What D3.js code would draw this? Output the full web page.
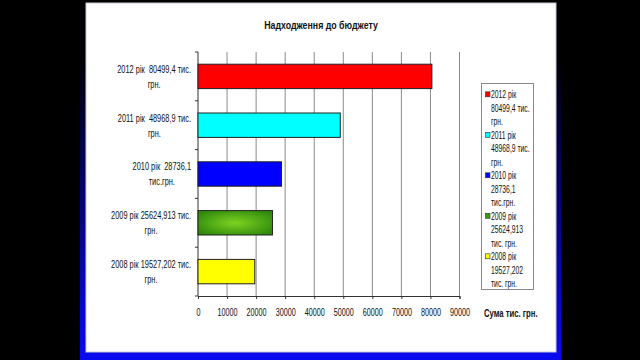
<!DOCTYPE html>
<html>
<head>
<meta charset="utf-8">
<script src="https://cdnjs.cloudflare.com/ajax/libs/d3/7.8.5/d3.min.js"></script>
<style>
    body { margin: 0; background: #000; overflow: hidden; }
    text { font-family: "Liberation Sans", Arial, sans-serif; fill: #111; }
</style>
</head>
<body>
<div id="chart"></div>
<script>
// data, bottom to top as in the original
let years = ["2008", "2009", "2010", "2011", "2012"];
let amounts = [19527.202, 25624.913, 28736.1, 48968.9, 80499.4];
let barLabels = [
    ["2008 рік 19527,202 тис.", "грн."],
    ["2009 рік 25624,913 тис.", "грн."],
    ["2010 рік  28736,1", "тис.грн."],
    ["2011 рік  48968,9 тис.", "грн."],
    ["2012 рік  80499,4 тис.", "грн."]
];
let legendLabels = [
    ["2008 рік", "19527,202", "тис. грн."],
    ["2009 рік", "25624,913", "тис. грн."],
    ["2010 рік", "28736,1", "тис.грн."],
    ["2011 рік", "48968,9 тис.", "грн."],
    ["2012 рік", "80499,4 тис.", "грн."]
];
let xTicks = [0, 10000, 20000, 30000, 40000, 50000, 60000, 70000, 80000, 90000];
let barColors = ["#ffff00", "url(#greenFill)", "#0000ff", "#00ffff", "#ff0000"];

let chartTitle = "Надходження до бюджету";
let xTitle = "Сума тис. грн.";

let plot = {left: 198, right: 459.5, top: 52, bottom: 296};

let svg = d3.select("#chart")
    .append("svg")
    .attr("width", 640)
    .attr("height", 360);

let defs = svg.append("defs");

let frameGrad = defs.append("linearGradient")
    .attr("id", "frameGrad")
    .attr("x1", 0).attr("y1", 0).attr("x2", 0).attr("y2", 1);
frameGrad.append("stop").attr("offset", "0%").attr("stop-color", "#000");
frameGrad.append("stop").attr("offset", "15%").attr("stop-color", "#000");
frameGrad.append("stop").attr("offset", "100%").attr("stop-color", "#0a0af0");

let greenFill = defs.append("radialGradient")
    .attr("id", "greenFill")
    .attr("cx", "50%").attr("cy", "50%").attr("r", "60%");
greenFill.append("stop").attr("offset", "0%").attr("stop-color", "#7ed321");
greenFill.append("stop").attr("offset", "100%").attr("stop-color", "#2f8a0c");

// no narrow face is installed, so squeeze the glyphs like Arial Narrow
function condense(sel, factor) {
    sel.each(function() {
        let w = this.getComputedTextLength();
        d3.select(this)
            .attr("textLength", w * factor)
            .attr("lengthAdjust", "spacingAndGlyphs");
    });
}

function drawGraph() {

    // slide frame
    svg.append("rect")
        .attr("x", 80).attr("y", 0)
        .attr("width", 481).attr("height", 360)
        .attr("fill", "url(#frameGrad)");

    svg.append("rect")
        .attr("x", 86).attr("y", 3)
        .attr("width", 470).attr("height", 349)
        .attr("fill", "#fff")
        .attr("stroke", "#c8c8d8")
        .attr("stroke-width", 1);

    let x = d3.scaleLinear()
        .domain([0, 90000])
        .range([plot.left, plot.right]);

    let y = d3.scaleBand()
        .domain(years.slice().reverse())
        .range([plot.top, plot.bottom])
        .paddingInner(0.5)
        .paddingOuter(0.25);

    // grid
    svg.append("g")
        .selectAll("line")
        .data(xTicks.filter(function(d) { return d > 0; }))
        .enter()
        .append("line")
        .attr("x1", function(d) { return x(d); })
        .attr("x2", function(d) { return x(d); })
        .attr("y1", plot.top)
        .attr("y2", plot.bottom)
        .attr("stroke", "#8a8a8a")
        .attr("stroke-width", 1);

    // x axis
    let xAxis = svg.append("g")
        .attr("transform", "translate(0," + plot.bottom + ")")
        .call(d3.axisBottom(x).tickValues(xTicks).tickSize(3).tickPadding(10).tickFormat(function(d) { return d; }));
    xAxis.select(".domain").attr("stroke", "#333");
    xAxis.selectAll(".tick line").attr("stroke", "#333");
    xAxis.selectAll("text")
        .attr("font-size", "10px")
        .attr("fill", "#111")
        .call(condense, 0.72);

    // y axis line and band ticks
    svg.append("line")
        .attr("x1", plot.left).attr("x2", plot.left)
        .attr("y1", plot.top).attr("y2", plot.bottom)
        .attr("stroke", "#333");

    let step = y.step();
    svg.append("g")
        .selectAll("line")
        .data(d3.range(years.length + 1))
        .enter()
        .append("line")
        .attr("x1", plot.left - 3)
        .attr("x2", plot.left)
        .attr("y1", function(k) { return plot.top + k * step; })
        .attr("y2", function(k) { return plot.top + k * step; })
        .attr("stroke", "#333");

    // bars
    svg.append("g")
        .selectAll("rect")
        .data(years)
        .enter()
        .append("rect")
        .attr("x", x(0))
        .attr("y", function(d) { return y(d); })
        .attr("width", function(d, i) { return x(amounts[i]) - x(0); })
        .attr("height", y.bandwidth())
        .attr("fill", function(d, i) { return barColors[i]; })
        .attr("stroke", "#222")
        .attr("stroke-width", 1);

    // category labels: each label is a box right aligned, lines centered in it
    let labelRight = 191;
    years.forEach(function(yr, i) {
        let g = svg.append("g");
        let cy = y(yr) + y.bandwidth() / 2;
        let lines = barLabels[i];
        let texts = g.selectAll("text")
            .data(lines)
            .enter()
            .append("text")
            .attr("xml:space", "preserve")
            .style("white-space", "pre")
            .attr("font-size", "11px")
            .attr("text-anchor", "middle")
            .attr("y", function(d, k) { return cy + (k - (lines.length - 1) / 2) * 15; })
            .attr("dy", "0.35em")
            .text(function(d) { return d; })
            .call(condense, 0.673);
        let maxW = 0;
        texts.each(function() { maxW = Math.max(maxW, +d3.select(this).attr("textLength")); });
        texts.attr("x", labelRight - maxW / 2);
    });

    // title
    svg.append("text")
        .attr("x", 321)
        .attr("y", 25)
        .attr("dy", "0.35em")
        .attr("text-anchor", "middle")
        .attr("font-size", "11px")
        .attr("font-weight", "bold")
        .text(chartTitle)
        .call(condense, 0.8);

    // x axis title
    svg.append("text")
        .attr("x", 484)
        .attr("y", 313)
        .attr("dy", "0.35em")
        .attr("font-size", "10px")
        .attr("font-weight", "bold")
        .text(xTitle)
        .call(condense, 0.77);

    // legend
    let legend = svg.append("g");
    legend.append("rect")
        .attr("x", 481.5).attr("y", 83.5)
        .attr("width", 52).attr("height", 206)
        .attr("fill", "#fff")
        .attr("stroke", "#888");

    let lineH = 13.5;
    let order = years.map(function(d, i) { return i; }).reverse();
    order.forEach(function(i, pos) {
        let top = 94.3 + pos * 3 * lineH;
        legend.append("rect")
            .attr("x", 485.5).attr("y", top - 2.5)
            .attr("width", 4.5).attr("height", 5)
            .attr("fill", barColors[i] == "url(#greenFill)" ? "#3a9a10" : barColors[i])
            .attr("stroke", "#333")
            .attr("stroke-width", 0.6);
        legend.selectAll(null)
            .data(legendLabels[i])
            .enter()
            .append("text")
            .attr("x", 491)
            .attr("y", function(d, k) { return top + k * lineH; })
            .attr("dy", "0.35em")
            .attr("font-size", "11px")
            .text(function(d) { return d; })
            .call(condense, 0.618);
    });
}

drawGraph();
</script>
</body>
</html>
